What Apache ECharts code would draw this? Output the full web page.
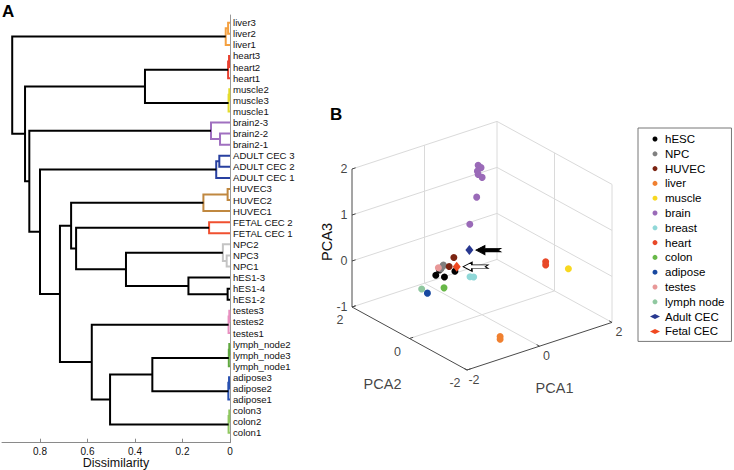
<!DOCTYPE html>
<html><head><meta charset="utf-8">
<script src="https://cdn.jsdelivr.net/npm/echarts@6/dist/echarts.min.js"></script>
<style>html,body{margin:0;padding:0;background:#fff}#c{width:734px;height:470px}</style>
</head><body><div id="c"></div>
<script>
// ---------- Panel A: dendrogram data ----------
const leafLabels = ['liver3','liver2','liver1','heart3','heart2','heart1','muscle2','muscle3','muscle1',
  'brain2-3','brain2-2','brain2-1','ADULT CEC 3','ADULT CEC 2','ADULT CEC 1','HUVEC3','HUVEC2','HUVEC1',
  'FETAL CEC 2','FETAL CEC 1','NPC2','NPC3','NPC1','hES1-3','hES1-4','hES1-2','testes3','testes2','testes1',
  'lymph_node2','lymph_node3','lymph_node1','adipose3','adipose2','adipose1','colon3','colon2','colon1'];
const leafGroups = ['liver','liver','liver','heart','heart','heart','muscle','muscle','muscle',
  'brain','brain','brain','adult','adult','adult','huvec','huvec','huvec','fetal','fetal',
  'npc','npc','npc','hes','hes','hes','testes','testes','testes','lymph','lymph','lymph',
  'adipose','adipose','adipose','colon','colon','colon'];
// linkage rows: [node a, node b, merge height]; leaves 0..37, new nodes numbered from 38
const linkage = [
  [0,1,0.008],[38,2,0.018],[3,4,0.004],[40,5,0.008],[6,7,0.003],[42,8,0.006],[41,43,0.358],
  [10,11,0.042],[9,45,0.08],[12,13,0.045],[47,14,0.058],[15,16,0.01],[49,17,0.112],[18,19,0.088],
  [21,22,0.014],[20,52,0.03],[24,25,0.01],[23,54,0.175],[53,55,0.438],[51,56,0.648],[50,57,0.669],
  [26,27,0.003],[59,28,0.006],[29,30,0.003],[61,31,0.005],[32,33,0.004],[63,34,0.007],[35,36,0.003],
  [65,37,0.006],[62,64,0.327],[67,66,0.505],[60,68,0.582],[58,69,0.716],[48,70,0.80],[46,71,0.845],
  [44,72,0.863],[39,73,0.917]
];
const dissimilarityTicks = [0, 0.2, 0.4, 0.6, 0.8];
const colorThreshold = 0.15;
const groupColors = {liver:'#f4a040', heart:'#e84030', muscle:'#e4dc2c', brain:'#a070c0', adult:'#2840a0',
  huvec:'#c08840', fetal:'#f05030', npc:'#c4c4c4', hes:'#000000', testes:'#e890c0', lymph:'#60a840',
  adipose:'#2850b0', colon:'#90c860'};

// ---------- Panel B: PCA data [PCA1, PCA2, PCA3] ----------
const pcaNames = ['hESC','NPC','HUVEC','liver','muscle','brain','breast','heart','colon','adipose','testes','lymph node','Adult CEC','Fetal CEC'];
const pcaColors = ['#000000','#808080','#7b2412','#f08030','#f8d820','#9a6ab8','#90d8d8','#e84828','#68b848','#1848a0','#e89898','#90c8a0','#283890','#f04820'];
const hESC = [[-0.64,0.8,-0.25],[-0.56,0.6,-0.24],[-0.43,0.4,-0.08],[-0.54,0.8,-0.16]];
const NPC = [[-0.51,0.7,-0.03],[-0.50,0.8,-0.15],[-0.49,0.75,-0.08]];
const HUVEC = [[-0.38,0.5,0.17],[-0.51,0.5,0.01]];
const liver = [[-0.69,-1.5,-0.78],[-0.69,-1.5,-0.84]];
const muscle = [[1.59,-1.0,-0.07]];
const brain = [[0.29,0.5,2.0],[0.37,0.5,1.93],[0.27,0.5,1.88],[0.29,0.5,1.80],[0.40,0.5,1.71],[0.25,0.5,1.32],[0.06,0.5,0.78]];
const breast = [[-0.33,0,-0.09],[-0.23,0,-0.12]];
const heart = [[1.36,-0.5,-0.03],[1.36,-0.5,-0.10]];
const colon = [[-0.81,0.3,-0.31]];
const adipose = [[-1.03,0.6,-0.47]];
const testes = [[-0.49,0.9,-0.16]];
const lymphNode = [[-1.03,0.8,-0.45]];
const adultCEC = [[-0.11,0.3,0.33]];
const fetalCEC = [[-0.46,0.3,0.06]];
const pcaData = [hESC,NPC,HUVEC,liver,muscle,brain,breast,heart,colon,adipose,testes,lymphNode,adultCEC,fetalCEC];
const pca1Ticks = [-2,0,2], pca2Ticks = [-2,0,2], pca3Ticks = [-1,0,1,2];

// ---------- build dendrogram links ----------
const nodeY = leafLabels.map((_, i) => i);
const nodeH = leafLabels.map(() => 0);
const nodeGroup = leafGroups.slice();
const links = [];
linkage.forEach(([a, b, h]) => {
  const g = (nodeGroup[a] && nodeGroup[a] === nodeGroup[b] && h < colorThreshold) ? nodeGroup[a] : null;
  links.push({value: [nodeH[a], nodeY[a], h, nodeY[b], nodeH[b]], itemStyle: {color: g ? groupColors[g] : '#000'}});
  nodeY.push((nodeY[a] + nodeY[b]) / 2);
  nodeH.push(h);
  nodeGroup.push(g);
});

// ---------- 3D view (fixed oblique view) ----------
const E1 = [36.25, 11.9], E2 = [-28.75, 15.75], E3 = [0, 46];
function proj(p) { return [E1[0]*p[0] + E2[0]*p[1] + E3[0]*p[2], E1[1]*p[0] + E2[1]*p[1] + E3[1]*p[2]]; }
const r1 = [pca1Ticks[0], pca1Ticks[pca1Ticks.length-1]];
const r2 = [pca2Ticks[0], pca2Ticks[pca2Ticks.length-1]];
const r3 = [pca3Ticks[0], pca3Ticks[pca3Ticks.length-1]];
const gridSegs = [];
pca3Ticks.forEach(t => gridSegs.push([[r1[0], r2[1], t], [r1[1], r2[1], t]]));
pca1Ticks.forEach(t => { if (t !== r1[0]) gridSegs.push([[t, r2[1], r3[0]], [t, r2[1], r3[1]]]); });
pca3Ticks.forEach(t => gridSegs.push([[r1[1], r2[0], t], [r1[1], r2[1], t]]));
pca2Ticks.forEach(t => { if (t !== r2[1]) gridSegs.push([[r1[1], t, r3[0]], [r1[1], t, r3[1]]]); });
pca1Ticks.forEach(t => { if (t !== r1[0] && t !== r1[1]) gridSegs.push([[t, r2[0], r3[0]], [t, r2[1], r3[0]]]); });
pca2Ticks.forEach(t => { if (t !== r2[0] && t !== r2[1]) gridSegs.push([[r1[0], t, r3[0]], [r1[1], t, r3[0]]]); });
const axisSegs = [
  [[r1[0], r2[1], r3[0]], [r1[0], r2[1], r3[1]]],
  [[r1[0], r2[0], r3[0]], [r1[0], r2[1], r3[0]]],
  [[r1[0], r2[0], r3[0]], [r1[1], r2[0], r3[0]]]
];
pca1Ticks.forEach(t => axisSegs.push([[t, r2[0], r3[0]], [t, r2[0] + 0.1, r3[0]]]));
pca2Ticks.forEach(t => axisSegs.push([[r1[0], t, r3[0]], [r1[0] + 0.1, t, r3[0]]]));
pca3Ticks.forEach(t => axisSegs.push([[r1[0], r2[1], t], [r1[0] + 0.1, r2[1], t]]));
const segData = segs => segs.map(s => proj(s[0]).concat(proj(s[1])));

const FONT = 'Liberation Sans, Arial, Helvetica, sans-serif';
function segSeries(segs, color, width) {
  return {type: 'custom', xAxisIndex: 1, yAxisIndex: 1, silent: true, z: 1,
    encode: {x: [0, 2], y: [1, 3]}, data: segData(segs),
    renderItem: (params, api) => {
      const a = api.coord([api.value(0), api.value(1)]), b = api.coord([api.value(2), api.value(3)]);
      return {type: 'line', shape: {x1: a[0], y1: a[1], x2: b[0], y2: b[1]}, style: {stroke: color, lineWidth: width}};
    }};
}
function labelSeries(points, names, labelOpt) {
  return {type: 'scatter', xAxisIndex: 1, yAxisIndex: 1, silent: true, symbolSize: 1,
    itemStyle: {color: 'rgba(0,0,0,0)'},
    data: points.map((p, i) => ({value: proj(p), name: names[i]})),
    label: Object.assign({show: true, formatter: '{b}', color: '#111', fontFamily: FONT, fontSize: 12.5}, labelOpt)};
}

const series = [];
// dendrogram
series.push({type: 'custom', xAxisIndex: 0, yAxisIndex: 0, silent: true, z: 3,
  encode: {x: [0, 2, 4], y: [1, 3]}, data: links,
  renderItem: (params, api) => {
    const p = [api.coord([api.value(0), api.value(1)]), api.coord([api.value(2), api.value(1)]),
               api.coord([api.value(2), api.value(3)]), api.coord([api.value(4), api.value(3)])];
    return {type: 'polyline', shape: {points: p}, style: {stroke: api.visual('color'), fill: null, lineWidth: 2}};
  }});
// 3D box
series.push(segSeries(gridSegs, '#dadada', 1));
series.push(segSeries(axisSegs, '#4a4a4a', 1));
// tick labels
series.push(labelSeries(pca1Ticks.map(t => [t, r2[0], r3[0]]), pca1Ticks.map(String), {position: 'inside', offset: [7, 10]}));
series.push(labelSeries(pca2Ticks.map(t => [r1[0], t, r3[0]]), pca2Ticks.map(String), {position: 'inside', offset: [-12, 13]}));
series.push(labelSeries(pca3Ticks.map(t => [r1[0], r2[1], t]), pca3Ticks.map(String), {position: 'left', distance: 4}));
// axis titles
series.push(labelSeries([[0, r2[0], r3[0]]], ['PCA1'], {position: 'inside', offset: [15, 42], fontSize: 14.5}));
series.push(labelSeries([[r1[0], 0, r3[0]]], ['PCA2'], {position: 'inside', offset: [-27, 45], fontSize: 14.5}));
// scatter points
pcaNames.forEach((name, i) => {
  const diamond = name.indexOf('CEC') >= 0;
  const s = {type: 'scatter', name, xAxisIndex: 1, yAxisIndex: 1, z: 5,
    symbol: diamond ? 'diamond' : 'circle', symbolSize: diamond ? [8, 10] : 7,
    itemStyle: {color: pcaColors[i], opacity: 1},
    data: pcaData[i].map(proj)};
  if (name === 'Adult CEC' || name === 'Fetal CEC') {
    const solid = name === 'Adult CEC';
    s.markPoint = {silent: true, symbol: 'path://M0,5L9,0L9,3L26,3L23,5L26,7L9,7L9,10Z',
      symbolSize: [25, 9], symbolKeepAspect: false, symbolOffset: [19, 0], label: {show: false},
      itemStyle: {color: solid ? '#000' : '#fff', borderColor: '#000', borderWidth: 1},
      data: [{coord: proj(pcaData[i][0])}]};
  }
  series.push(s);
});

const option = {
  animation: false,
  backgroundColor: '#fff',
  textStyle: {fontFamily: FONT},
  graphic: [
    {type: 'text', left: 2, top: 3, style: {text: 'A', font: 'bold 17px ' + FONT, fill: '#000'}},
    {type: 'text', left: 330, top: 106, style: {text: 'B', font: 'bold 17px ' + FONT, fill: '#000'}},
    {type: 'text', x: 327, y: 242, rotation: Math.PI / 2,
      style: {text: 'PCA3', font: '14.5px ' + FONT, fill: '#111', align: 'center', verticalAlign: 'middle'}}
  ],
  legend: {
    orient: 'vertical', left: 638, top: 128, data: pcaNames,
    itemWidth: 10, itemHeight: 5, itemGap: 0.8, padding: [4, 7, 3, 12],
    borderColor: '#777', borderWidth: 1, borderRadius: 0, selectedMode: false,
    textStyle: {fontSize: 11.5, lineHeight: 14, color: '#000', fontFamily: FONT}
  },
  grid: [
    {left: 2, top: 15, width: 228, height: 427.7, outerBoundsMode: 'none', containLabel: false},
    {left: 340, top: 100, width: 290, height: 300, outerBoundsMode: 'none', containLabel: false}
  ],
  xAxis: [
    {type: 'value', gridIndex: 0, min: 0, max: 0.96, inverse: true, position: 'bottom',
      name: 'Dissimilarity', nameLocation: 'middle', nameGap: 14, nameMoveOverlap: false,
      nameTextStyle: {fontSize: 12.5, lineHeight: 13, color: '#111', fontFamily: FONT},
      axisLine: {onZero: false, lineStyle: {color: '#8a8a8a', width: 1}},
      axisTick: {inside: true, length: 4, customValues: dissimilarityTicks, lineStyle: {color: '#8a8a8a'}},
      axisLabel: {customValues: dissimilarityTicks, margin: 4, fontSize: 10, lineHeight: 10, color: '#111',
        formatter: v => v === 0 ? '0' : v.toFixed(1)},
      splitLine: {show: false}},
    {type: 'value', gridIndex: 1, min: -142, max: 148, show: false, splitLine: {show: false}}
  ],
  yAxis: [
    {type: 'value', gridIndex: 0, min: -0.7, max: 37.9, inverse: true, position: 'right',
      axisLine: {show: true, onZero: false, lineStyle: {color: '#9a9a9a', width: 1}},
      axisTick: {show: false},
      axisLabel: {customValues: leafLabels.map((_, i) => i), margin: 3, fontSize: 9.6, color: '#111',
        fontFamily: FONT, formatter: v => leafLabels[Math.round(v)]},
      splitLine: {show: false}},
    {type: 'value', gridIndex: 1, min: -131.3, max: 168.7, show: false, splitLine: {show: false}}
  ],
  series
};
const chart = echarts.init(document.getElementById('c'), null, {renderer: 'svg'});
chart.setOption(option);
</script>
</body></html>
